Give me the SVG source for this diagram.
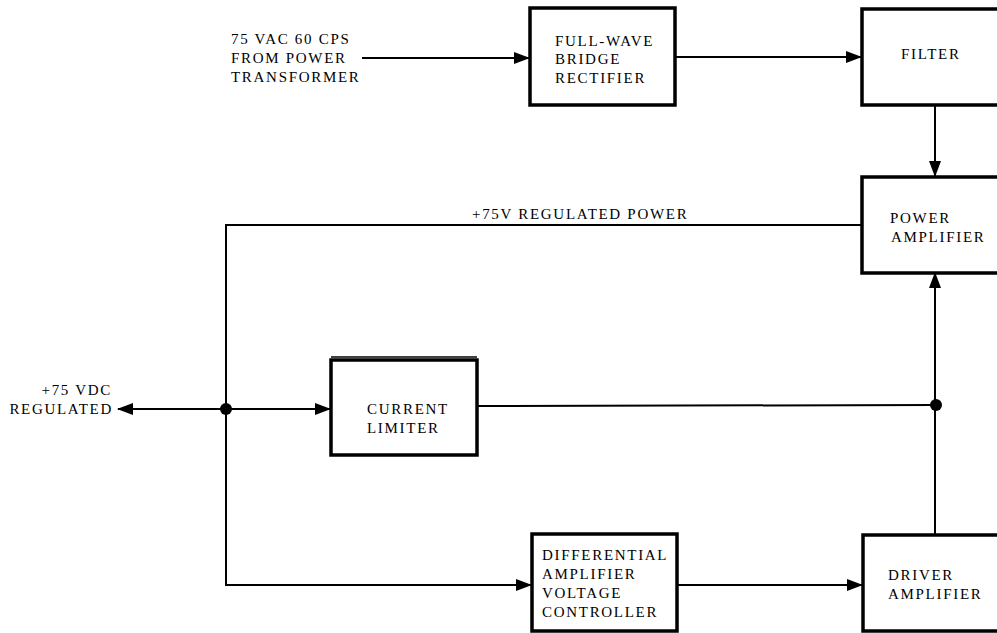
<svg xmlns="http://www.w3.org/2000/svg" width="997" height="633" viewBox="0 0 997 633">
<defs>
<marker id="ah" markerWidth="16" markerHeight="12" refX="15" refY="6" orient="auto" markerUnits="userSpaceOnUse">
<path d="M0,0 L16,6 L0,12 Z" fill="#000"/>
</marker>
<style>
.box{fill:#fff;stroke:#000;stroke-width:3.5}
.ln{fill:none;stroke:#000;stroke-width:2}
text{font-family:"Liberation Serif","Times New Roman",serif;font-size:15px;letter-spacing:1.7px;fill:#000}
</style>
</defs>
<rect width="997" height="633" fill="#fff"/>
<g id="connectors">
<line class="ln" x1="362" y1="58" x2="529" y2="58" marker-end="url(#ah)"/>
<line class="ln" x1="675" y1="57" x2="861" y2="57" marker-end="url(#ah)"/>
<line class="ln" x1="935" y1="105" x2="935" y2="176" marker-end="url(#ah)"/>
<polyline class="ln" points="862,225 226,225 226,585 531,585" marker-end="url(#ah)"/>
<line class="ln" x1="226" y1="409" x2="118" y2="409" marker-end="url(#ah)"/>
<line class="ln" x1="226" y1="409" x2="330" y2="409" marker-end="url(#ah)"/>
<line class="ln" x1="477" y1="406" x2="935" y2="405"/>
<line class="ln" x1="935" y1="535" x2="935" y2="273" marker-end="url(#ah)"/>
<line class="ln" x1="677" y1="585" x2="862" y2="585" marker-end="url(#ah)"/>
<circle cx="226" cy="409" r="6" fill="#000"/>
<circle cx="936" cy="405" r="6" fill="#000"/>
</g>
<g id="input-label">
<text x="231" y="44">75 VAC 60 CPS</text>
<text x="231" y="63">FROM POWER</text>
<text x="231" y="82">TRANSFORMER</text>
</g>
<g id="rectifier">
<rect class="box" x="530" y="8" width="145" height="97"/>
<text x="555" y="46">FULL-WAVE</text>
<text x="555" y="64">BRIDGE</text>
<text x="555" y="83">RECTIFIER</text>
</g>
<g id="filter">
<rect class="box" x="862" y="9" width="140" height="96"/>
<text x="901" y="59">FILTER</text>
</g>
<g id="power-amplifier">
<rect class="box" x="862" y="177" width="140" height="96"/>
<text x="890" y="223">POWER</text>
<text x="891" y="242">AMPLIFIER</text>
</g>
<g id="regulated-power-label">
<text x="472" y="219">+75V REGULATED POWER</text>
</g>
<g id="output-label">
<text x="112" y="395" text-anchor="end">+75 VDC</text>
<text x="113" y="414" text-anchor="end">REGULATED</text>
</g>
<g id="current-limiter">
<rect class="box" x="331" y="360" width="146" height="95"/>
<line x1="331" y1="357" x2="477" y2="357" stroke="#000" stroke-width="1.5"/>
<text x="367" y="414">CURRENT</text>
<text x="367" y="433">LIMITER</text>
</g>
<g id="diff-amplifier">
<rect class="box" x="532" y="534" width="145" height="97"/>
<text x="542" y="560">DIFFERENTIAL</text>
<text x="542" y="579">AMPLIFIER</text>
<text x="542" y="598">VOLTAGE</text>
<text x="542" y="617">CONTROLLER</text>
</g>
<g id="driver-amplifier">
<rect class="box" x="863" y="535" width="140" height="96"/>
<text x="888" y="580">DRIVER</text>
<text x="888" y="599">AMPLIFIER</text>
</g>
</svg>
